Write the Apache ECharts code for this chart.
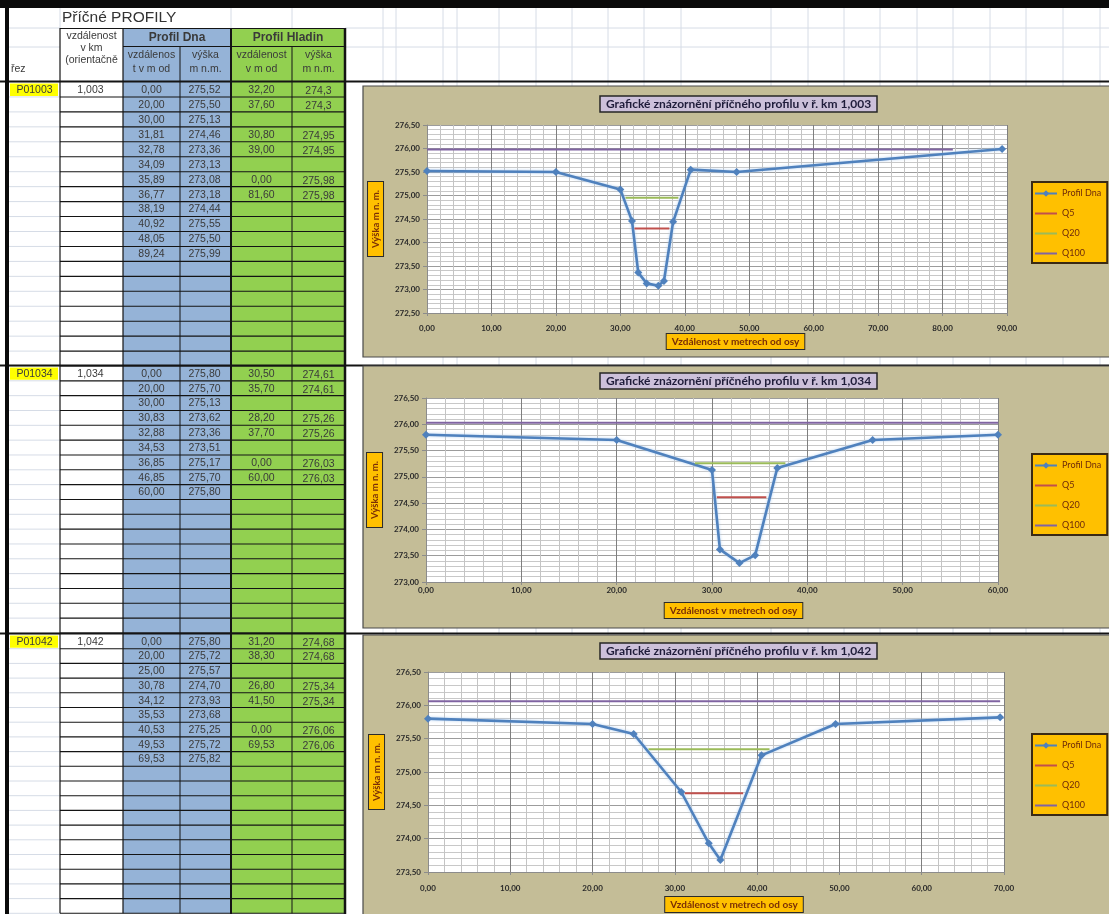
<!DOCTYPE html>
<html>
<head>
<meta charset="utf-8">
<script src="https://cdn.jsdelivr.net/npm/echarts@6/dist/echarts.min.js"></script>
<style>
  html, body { margin: 0; padding: 0; background: #ffffff; }
  #chart { width: 1109px; height: 914px; }
</style>
</head>
<body>
<div id="chart"></div>
<script>
// ---- Cross sections: identifiers and river kilometre ----
const sections = ['P01003', 'P01034', 'P01042'];
const riverKm = [1.003, 1.034, 1.042];

// ---- Bed profile (Profil Dna): distance from axis [m], elevation [m n. m.] ----
const bedDist1 = [0.00, 20.00, 30.00, 31.81, 32.78, 34.09, 35.89, 36.77, 38.19, 40.92, 48.05, 89.24];
const bedElev1 = [275.52, 275.50, 275.13, 274.46, 273.36, 273.13, 273.08, 273.18, 274.44, 275.55, 275.50, 275.99];
const bedDist2 = [0.00, 20.00, 30.00, 30.83, 32.88, 34.53, 36.85, 46.85, 60.00];
const bedElev2 = [275.80, 275.70, 275.13, 273.62, 273.36, 273.51, 275.17, 275.70, 275.80];
const bedDist3 = [0.00, 20.00, 25.00, 30.78, 34.12, 35.53, 40.53, 49.53, 69.53];
const bedElev3 = [275.80, 275.72, 275.57, 274.70, 273.93, 273.68, 275.25, 275.72, 275.82];

// ---- Water levels (Profil Hladin): pairs of rows for Q5, Q20, Q100 ----
const waterDist1 = [32.20, 37.60, null, 30.80, 39.00, null, 0.00, 81.60];
const waterElev1 = [274.3, 274.3, null, 274.95, 274.95, null, 275.98, 275.98];
const waterDist2 = [30.50, 35.70, null, 28.20, 37.70, null, 0.00, 60.00];
const waterElev2 = [274.61, 274.61, null, 275.26, 275.26, null, 276.03, 276.03];
const waterDist3 = [31.20, 38.30, null, 26.80, 41.50, null, 0.00, 69.53];
const waterElev3 = [274.68, 274.68, null, 275.34, 275.34, null, 276.06, 276.06];

// ---- Axis ranges and tick steps of the three profile charts ----
const xRanges = [[0, 90], [0, 60], [0, 70]];
const yRanges = [[272.5, 276.5], [273.0, 276.5], [273.5, 276.5]];
const xStep = 10;
const yStep = 0.5;

// ---- Series names ----
const seriesNames = ['Profil Dna', 'Q5', 'Q20', 'Q100'];
const levelNames = ['Q5', 'Q20', 'Q100'];
const levelRows = [0, 3, 6];

// ---- Text labels ----
const sheetTitle = 'Příčné PROFILY';
const chartTitlePrefix = 'Grafické znázornění příčného profilu v ř. km ';
const xAxisTitle = 'Vzdálenost v metrech od osy';
const yAxisTitle = 'Výška m n. m.';

const bedDist = [bedDist1, bedDist2, bedDist3];
const bedElev = [bedElev1, bedElev2, bedElev3];
const waterDist = [waterDist1, waterDist2, waterDist3];
const waterElev = [waterElev1, waterElev2, waterElev3];

// number formats used by the sheet (decimal comma)
const fmt2 = v => v.toFixed(2).replace('.', ',');
const fmtGeneral = v => String(v).replace('.', ',');
const fmtKm = v => v.toFixed(3).replace('.', ',');

// ---------------- layout ----------------
const W = 1109, H = 914;
const colX = [9, 60, 123, 180, 231, 292, 345];
const blockTop = [82, 366, 634];
const blockRows = [19, 18, 19];
const blockRowH = [14.95, 14.83, 14.7];
const sheetColsRight = [383, 396, 443, 457, 499, 536, 572, 608, 644, 681, 771, 808, 844, 880, 917, 953, 990, 1026, 1063, 1100];

const chartBoxes = [
  { y: 86, h: 271 },
  { y: 366, h: 262 },
  { y: 635, h: 290 }
];
const plotBoxes = [
  { left: 427, top: 125, width: 580, height: 188 },
  { left: 426, top: 398, width: 572, height: 184 },
  { left: 428, top: 672, width: 576, height: 200 }
];
const titleTops = [96, 373, 643];
const legendTops = [182, 454, 734];
const xLabelMargins = [11, 4, 12];
const xNameGaps = [21, 21, 25];
const xNameShift = [37, 43, 36];

const SHEET_FONT = '"Liberation Sans", Arial, sans-serif';
const CHART_FONT = 'Lato, "Open Sans", sans-serif';
const TEXT_GREY = '#3a3a3a';
const BLUE_CELL = '#95B3D7';
const GREEN_CELL = '#92D050';
const GRID_GREY = '#d6dce6';
const DARK = '#141414';

// ---------------- sheet drawing helpers ----------------
const els = [];
function rect(x, y, w, h, fill, z, stroke, lw) {
  els.push({ type: 'rect', silent: true, z: z,
    shape: { x: x, y: y, width: w, height: h },
    style: { fill: fill, stroke: stroke || null, lineWidth: lw || 0 } });
}
function line(x1, y1, x2, y2, color, width, z) {
  els.push({ type: 'line', silent: true, z: z,
    shape: { x1: x1, y1: y1, x2: x2, y2: y2 },
    style: { stroke: color, lineWidth: width } });
}
function text(x, y, s, opt) {
  els.push({ type: 'text', silent: true, z: -4, x: x, y: y,
    style: Object.assign({ text: s, fill: TEXT_GREY, fontSize: 10.5, fontFamily: SHEET_FONT,
      align: 'center', verticalAlign: 'middle' }, opt || {}) });
}

// light spreadsheet grid on the right part of the sheet
sheetColsRight.forEach(x => line(x, 8, x, H, GRID_GREY, 1, -20));
[28, 47].forEach(y => line(colX[6], y, W, y, GRID_GREY, 1, -20));
line(colX[0], 28, colX[1], 28, GRID_GREY, 1, -20);
line(colX[0], 47, colX[1], 47, GRID_GREY, 1, -20);
line(colX[1], 8, colX[1], 28, GRID_GREY, 1, -20);
[colX[4], colX[5]].forEach(x => line(x, 8, x, 28, GRID_GREY, 1, -20));

// header cells
rect(colX[2], 28, colX[4] - colX[2], blockTop[0] - 28, BLUE_CELL, -18);
rect(colX[4], 28, colX[6] - colX[4], blockTop[0] - 28, GREEN_CELL, -18);
text(colX[1] + 2, 17.5, sheetTitle, { align: 'left', fontSize: 15.5, fill: '#333' });
text((colX[1] + colX[2]) / 2, 36, 'vzdálenost');
text((colX[1] + colX[2]) / 2, 48.5, 'v km');
text((colX[1] + colX[2]) / 2, 60.5, '(orientačně');
text((colX[2] + colX[4]) / 2, 37.5, 'Profil Dna', { fontWeight: 'bold', fontSize: 12 });
text((colX[4] + colX[6]) / 2, 37.5, 'Profil Hladin', { fontWeight: 'bold', fontSize: 12 });
text((colX[2] + colX[3]) / 2, 55.5, 'vzdálenos');
text((colX[2] + colX[3]) / 2, 69.5, 't v m od');
text((colX[3] + colX[4]) / 2, 55.5, 'výška');
text((colX[3] + colX[4]) / 2, 69.5, 'm n.m.');
text((colX[4] + colX[5]) / 2, 55.5, 'vzdálenost');
text((colX[4] + colX[5]) / 2, 69.5, 'v m od');
text((colX[5] + colX[6]) / 2, 55.5, 'výška');
text((colX[5] + colX[6]) / 2, 69.5, 'm n.m.');
text(colX[0] + 2, 69.5, 'řez', { align: 'left' });
// header borders
line(colX[1], 28.5, colX[6], 28.5, DARK, 1.2, -6);
line(colX[2], 46.5, colX[6], 46.5, DARK, 1, -6);
line(colX[3], 46.5, colX[3], blockTop[0], DARK, 1, -6);
line(colX[5], 46.5, colX[5], blockTop[0], DARK, 1, -6);
[colX[1], colX[2]].forEach(x => line(x, 28, x, blockTop[0], DARK, 1.2, -6));

// data blocks
for (let b = 0; b < 3; b++) {
  const top = blockTop[b];
  const rh = blockRowH[b];
  const rows = blockRows[b];
  const bottom = top + rows * rh;
  rect(colX[2], top, colX[4] - colX[2], rows * rh, BLUE_CELL, -18);
  rect(colX[4], top, colX[6] - colX[4], rows * rh, GREEN_CELL, -18);
  for (let r = 0; r <= rows; r++) {
    const y = top + r * rh;
    line(colX[0], y, colX[1], y, GRID_GREY, 1, -17);
    if (r > 0) line(colX[1], y, colX[6], y, DARK, 1.1, -6);
  }
  // section label and km
  const cy = top + rh / 2;
  rect(colX[0] + 1, top + 1.5, colX[1] - colX[0] - 3, rh - 2.5, '#FFFF00', -16);
  text((colX[0] + colX[1]) / 2, cy + 0.5, sections[b], { fontSize: 10.5 });
  text((colX[1] + colX[2]) / 2 - 1, cy + 0.5, fmtKm(riverKm[b]), { fontSize: 10.5 });
  // bed profile rows
  bedDist[b].forEach((d, k) => {
    const y = top + k * rh + rh / 2 + 0.5;
    text((colX[2] + colX[3]) / 2, y, fmt2(d), { fontSize: 10.5 });
    text((colX[3] + colX[4]) / 2 - 1, y, fmt2(bedElev[b][k]), { fontSize: 10.5 });
  });
  // water level rows
  waterDist[b].forEach((d, k) => {
    if (d === null) return;
    const y = top + k * rh + rh / 2 + 0.5;
    text((colX[4] + colX[5]) / 2, y, fmt2(d), { fontSize: 10.5 });
    text((colX[5] + colX[6]) / 2, y + 1, fmtGeneral(waterElev[b][k]), { fontSize: 10.5 });
  });
  // block separator across the whole sheet
  line(0, top - 0.5, W, top - 0.5, DARK, 2.2, -6);
  // vertical borders
  line(colX[1], top, colX[1], bottom, DARK, 1.2, -6);
  line(colX[2], top, colX[2], bottom, DARK, 1.2, -6);
  line(colX[3], top, colX[3], bottom, DARK, 1, -6);
  line(colX[5], top, colX[5], bottom, DARK, 1, -6);
}
line(colX[4], 28, colX[4], H, DARK, 2, -5);
line(colX[6], 28, colX[6], H, DARK, 2.5, -5);
// sheet frame
rect(0, 0, W, 8, '#0a0a0a', -3);
rect(5, 8, 4, H - 8, '#0a0a0a', -3);

// chart areas (tan frames)
chartBoxes.forEach(c => rect(363, c.y, W - 363 + 4, c.h, '#C4BD97', -2, '#4a4a4a', 1.2));

// ---------------- chart components ----------------
const grids = [], xAxes = [], yAxes = [], titles = [], legends = [], series = [];
const levelColors = { Q5: '#C0504D', Q20: '#9BBB59', Q100: '#8064A2' };
const tickLabel = { fontSize: 8, color: '#2a2a2a', fontFamily: CHART_FONT, fontWeight: 'bold' };

for (let i = 0; i < 3; i++) {
  const p = plotBoxes[i];
  grids.push({ left: p.left, top: p.top, width: p.width, height: p.height,
    show: true, backgroundColor: '#ffffff', borderWidth: 0, containLabel: false });

  xAxes.push({
    gridIndex: i, type: 'value', min: xRanges[i][0], max: xRanges[i][1], interval: xStep,
    axisLine: { show: true, onZero: false, lineStyle: { color: '#8c8c8c', width: 1 } },
    axisTick: { show: true, length: 3, lineStyle: { color: '#8c8c8c' } },
    axisLabel: Object.assign({ formatter: fmt2, margin: xLabelMargins[i] }, tickLabel),
    splitLine: { show: true, lineStyle: { color: '#7f7f7f', width: 1 } },
    minorTick: { show: false, splitNumber: 5 },
    minorSplitLine: { show: true, lineStyle: { color: '#c4c4c4', width: 1 } },
    name: '{sp|}{t|' + xAxisTitle + '}',
    nameLocation: 'middle', nameGap: xNameGaps[i],
    nameTextStyle: { rich: {
      sp: { width: xNameShift[i] },
      t: { backgroundColor: '#FFC000', borderColor: '#2b2b2b', borderWidth: 1,
           padding: [3, 5, 2, 5], color: '#7a2e06', fontWeight: 'bold', fontSize: 10,
           fontFamily: CHART_FONT }
    } }
  });

  yAxes.push({
    gridIndex: i, type: 'value', min: yRanges[i][0], max: yRanges[i][1], interval: yStep,
    axisLine: { show: true, lineStyle: { color: '#8c8c8c', width: 1 } },
    axisTick: { show: true, length: 4, lineStyle: { color: '#8c8c8c' } },
    axisLabel: Object.assign({ formatter: fmt2, margin: 7 }, tickLabel),
    splitLine: { show: true, lineStyle: { color: '#9c9c9c', width: 1 } },
    minorTick: { show: false, splitNumber: 5 },
    minorSplitLine: { show: true, lineStyle: { color: '#c8c8c8', width: 1 } },
    name: yAxisTitle, nameLocation: 'middle', nameRotate: 90, nameGap: 40,
    nameTextStyle: { backgroundColor: '#FFC000', borderColor: '#2b2b2b', borderWidth: 1,
      padding: [3, 8, 2, 8], color: '#7a2e06', fontWeight: 'bold', fontSize: 9.5,
      fontFamily: CHART_FONT }
  });

  titles.push({
    text: chartTitlePrefix + fmtKm(riverKm[i]),
    left: 600, top: titleTops[i],
    backgroundColor: '#CCC0DA', borderColor: '#262626', borderWidth: 1.5,
    padding: [2, 6, 2, 6],
    textStyle: { fontSize: 12, fontWeight: 'bold', color: '#1f1c3a', fontFamily: CHART_FONT }
  });

  legends.push({
    orient: 'vertical', left: 1032, top: legendTops[i],
    backgroundColor: '#FFC000', borderColor: '#3a2a14', borderWidth: 2,
    padding: [7, 6, 5, 2], itemWidth: 22, itemHeight: 8, itemGap: 11,
    textStyle: { fontSize: 9, color: '#6e2a0a', fontFamily: CHART_FONT },
    selectedMode: false,
    data: seriesNames.map(n => n === 'Profil Dna' ? { name: n } : { name: n, itemStyle: { opacity: 0 } })
  });

  series.push({
    name: 'Profil Dna', type: 'line', xAxisIndex: i, yAxisIndex: i,
    data: bedDist[i].map((d, k) => [d, bedElev[i][k]]),
    symbol: 'diamond', symbolSize: 8,
    lineStyle: { width: 2.6, color: '#4F81BD', shadowColor: 'rgba(175,205,240,0.95)', shadowBlur: 3 },
    itemStyle: { color: '#4F81BD' },
    emphasis: { disabled: true }, z: 3
  });
  levelNames.forEach((nm, j) => {
    const r = levelRows[j];
    series.push({
      name: nm, type: 'line', xAxisIndex: i, yAxisIndex: i,
      data: [[waterDist[i][r], waterElev[i][r]], [waterDist[i][r + 1], waterElev[i][r + 1]]],
      symbol: 'none',
      lineStyle: { width: 2, color: levelColors[nm] },
      itemStyle: { color: levelColors[nm] },
      emphasis: { disabled: true }, z: 4
    });
  });
}

const chart = echarts.init(document.getElementById('chart'), null, { renderer: 'canvas' });
chart.setOption({
  animation: false,
  backgroundColor: '#ffffff',
  graphic: { elements: els },
  title: titles,
  legend: legends,
  grid: grids,
  xAxis: xAxes,
  yAxis: yAxes,
  series: series
});
</script>
</body>
</html>
